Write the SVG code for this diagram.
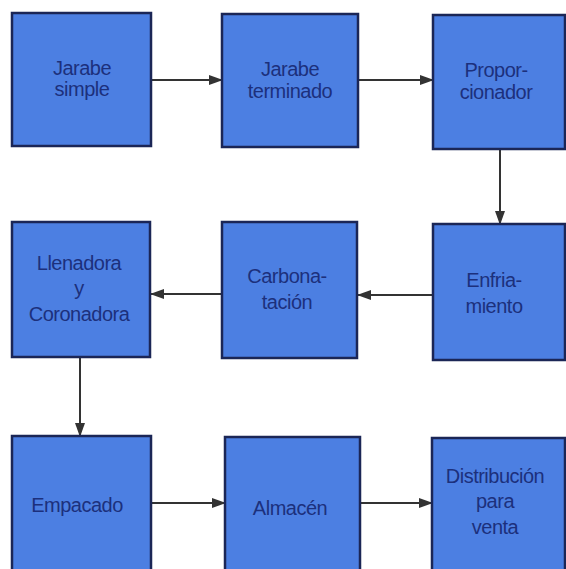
<svg xmlns="http://www.w3.org/2000/svg" width="566" height="569" viewBox="0 0 566 569">
<style>
.box{fill:#4c7fe2;stroke:#1b2656;stroke-width:2.5}
.t{font-family:"Liberation Sans",Arial,sans-serif;font-size:20px;fill:#1c307c;text-anchor:middle;letter-spacing:-0.5px}
.c{stroke:#333;stroke-width:2;fill:none;marker-end:url(#ah)}
</style>
<defs>
<marker id="ah" markerWidth="14" markerHeight="10" refX="13" refY="5" orient="auto" markerUnits="userSpaceOnUse">
<path d="M0,0 L14,5 L0,10 Z" fill="#333"/>
</marker>
</defs>
<rect width="566" height="569" fill="#fff"/>
<g id="connectors">
<line class="c" x1="152" y1="80" x2="222" y2="80"/>
<line class="c" x1="358" y1="80" x2="433" y2="80"/>
<line class="c" x1="500" y1="149" x2="500" y2="224"/>
<line class="c" x1="433" y1="295" x2="358" y2="295"/>
<line class="c" x1="222" y1="294" x2="151" y2="294"/>
<line class="c" x1="80" y1="357" x2="80" y2="436"/>
<line class="c" x1="151" y1="503" x2="225" y2="503"/>
<line class="c" x1="360" y1="503" x2="432" y2="503"/>
</g>
<g id="jarabe-simple">
<rect class="box" x="12" y="13" width="139" height="133"/>
<text class="t" x="82" y="75">Jarabe</text>
<text class="t" x="82" y="96">simple</text>
</g>
<g id="jarabe-terminado">
<rect class="box" x="222" y="14" width="136" height="133"/>
<text class="t" x="290" y="76">Jarabe</text>
<text class="t" x="290" y="98">terminado</text>
</g>
<g id="proporcionador">
<rect class="box" x="433" y="15" width="132" height="134"/>
<text class="t" x="496" y="77">Propor-</text>
<text class="t" x="496" y="99">cionador</text>
</g>
<g id="enfriamiento">
<rect class="box" x="433" y="224" width="132" height="136"/>
<text class="t" x="494" y="287">Enfria-</text>
<text class="t" x="494" y="313">miento</text>
</g>
<g id="carbonatacion">
<rect class="box" x="222" y="222" width="135" height="136"/>
<text class="t" x="287" y="283">Carbona-</text>
<text class="t" x="287" y="309">tación</text>
</g>
<g id="llenadora">
<rect class="box" x="12" y="222" width="138" height="135"/>
<text class="t" x="79" y="270">Llenadora</text>
<text class="t" x="79" y="295">y</text>
<text class="t" x="79" y="321">Coronadora</text>
</g>
<g id="empacado">
<rect class="box" x="12" y="436" width="139" height="140"/>
<text class="t" x="77" y="512">Empacado</text>
</g>
<g id="almacen">
<rect class="box" x="225" y="437" width="135" height="140"/>
<text class="t" x="290" y="515">Almacén</text>
</g>
<g id="distribucion">
<rect class="box" x="432" y="438" width="133" height="140"/>
<text class="t" x="495" y="483">Distribución</text>
<text class="t" x="495" y="508">para</text>
<text class="t" x="495" y="534">venta</text>
</g>
</svg>
